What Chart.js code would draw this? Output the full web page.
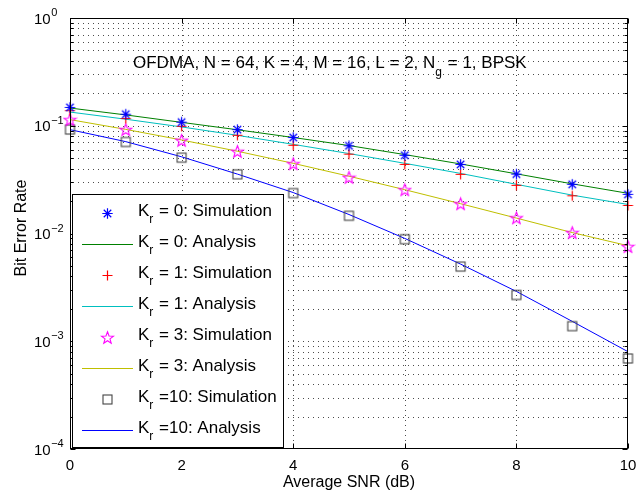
<!DOCTYPE html>
<html>
<head>
<meta charset="utf-8">
<script src="https://cdn.jsdelivr.net/npm/chart.js@4.4.1/dist/chart.umd.min.js"></script>
<style>
html,body{margin:0;padding:0;background:#fff;}
#wrap{width:639px;height:492px;position:relative;}
</style>
</head>
<body>
<div id="wrap"><canvas id="c" width="639" height="492"></canvas></div>
<script>
// ---- data ----
const snr    = [0,1,2,3,4,5,6,7,8,9,10];
const simK0  = [0.148,0.128,0.108,0.092,0.0777,0.0652,0.0532,0.0438,0.0356,0.0286,0.0231];
const anaK0  = [0.146,0.126,0.1075,0.0918,0.0778,0.0655,0.0540,0.0442,0.0358,0.0289,0.0236];
const simK1  = [0.138,0.1167,0.0989,0.0816,0.0659,0.0545,0.0438,0.0354,0.0280,0.0224,0.0182];
const anaK1  = [0.134,0.1150,0.0975,0.0815,0.0672,0.0552,0.0448,0.0361,0.0286,0.0227,0.0186];
const simK3  = [0.114,0.0922,0.0733,0.0579,0.0445,0.0332,0.0255,0.0189,0.0140,0.0102,0.00757];
const anaK3  = [0.114,0.0925,0.0738,0.0580,0.0448,0.0340,0.0255,0.0189,0.0139,0.0102,0.0077];
const simK10 = [0.0922,0.0707,0.0506,0.0354,0.0237,0.0146,0.00885,0.00493,0.00269,0.00138,0.000692];
const anaK10 = [0.092,0.0712,0.0515,0.0356,0.0240,0.0150,0.0090,0.0052,0.0029,0.00153,0.00080];

const xTicks = [0,2,4,6,8,10];
const yTicks = [1e-4,1e-3,1e-2,1e-1,1];
const yTickExp = ['-4','-3','-2','-1','0'];
const legendLabels = [
  'K_r = 0: Simulation','K_r = 0: Analysis',
  'K_r = 1: Simulation','K_r = 1: Analysis',
  'K_r = 3: Simulation','K_r = 3: Analysis',
  'K_r =10: Simulation','K_r =10: Analysis'
];
const titleText = 'OFDMA, N = 64, K = 4, M = 16, L = 2, N_g = 1, BPSK';
const xTitle = 'Average SNR (dB)';
const yTitle = 'Bit Error Rate';

const FONT = '"Liberation Sans", Arial, Helvetica, sans-serif';

// ---- marker images ----
function mk(size, draw){
  const c = document.createElement('canvas');
  c.width = size; c.height = size;
  const g = c.getContext('2d');
  draw(g, size/2);
  return c;
}
const mAst = mk(13, (g,c)=>{
  g.strokeStyle='#0000ff'; g.lineWidth=1.2; g.beginPath();
  const r=5.2, d=r*0.72;
  g.moveTo(c-r,c); g.lineTo(c+r,c);
  g.moveTo(c,c-r); g.lineTo(c,c+r);
  g.moveTo(c-d,c-d); g.lineTo(c+d,c+d);
  g.moveTo(c-d,c+d); g.lineTo(c+d,c-d);
  g.stroke();
});
const mPlus = mk(13, (g,c)=>{
  g.strokeStyle='#ff0000'; g.lineWidth=1.2; g.beginPath();
  const r=5;
  g.moveTo(c-r,c); g.lineTo(c+r,c);
  g.moveTo(c,c-r); g.lineTo(c,c+r);
  g.stroke();
});
const mStar = mk(15, (g,c)=>{
  g.strokeStyle='#ff00ff'; g.lineWidth=1.1; g.beginPath();
  const R=6.3, r=2.6;
  for(let i=0;i<10;i++){
    const a = -Math.PI/2 + i*Math.PI/5;
    const rr = (i%2===0)?R:r;
    const px = c + rr*Math.cos(a), py = c + 0.6 + rr*Math.sin(a);
    if(i===0) g.moveTo(px,py); else g.lineTo(px,py);
  }
  g.closePath(); g.stroke();
});
const mSq = mk(13, (g,c)=>{
  g.strokeStyle='#444444'; g.lineWidth=1.1;
  g.strokeRect(2,2,9,9);
});

const toXY = arr => snr.map((x,i)=>({x:x, y:arr[i]}));

const simDs = (label, arr, img) => ({
  label, data: toXY(arr), showLine:false, pointStyle:img, pointRadius:6,
  borderColor:'rgba(0,0,0,0)', backgroundColor:'rgba(0,0,0,0)', order:0, clip:false
});
const anaDs = (label, arr, color) => ({
  label, data: toXY(arr), showLine:true, pointRadius:0, borderColor:color,
  borderWidth:1, tension:0, fill:false, order:1, clip:false
});

const datasets = [
  simDs(legendLabels[0], simK0, mAst),
  anaDs(legendLabels[1], anaK0, '#008000'),
  simDs(legendLabels[2], simK1, mPlus),
  anaDs(legendLabels[3], anaK1, '#00bfbf'),
  simDs(legendLabels[4], simK3, mStar),
  anaDs(legendLabels[5], anaK3, '#bfbf00'),
  simDs(legendLabels[6], simK10, mSq),
  anaDs(legendLabels[7], anaK10, '#0000ff')
];

// ---- rich text helper: "_x" = one-char subscript ----
function parseRich(s){
  const parts=[]; let buf='';
  for(let i=0;i<s.length;i++){
    if(s[i]==='_' && i+1<s.length){
      if(buf){parts.push({t:buf,sub:false}); buf='';}
      parts.push({t:s[i+1],sub:true}); i++;
    } else buf+=s[i];
  }
  if(buf) parts.push({t:buf,sub:false});
  return parts;
}
function drawRich(ctx, s, x, y, size, subSize, subDy){
  const parts = parseRich(s);
  ctx.textBaseline='alphabetic'; ctx.textAlign='left';
  let cx = x;
  for(const p of parts){
    ctx.font = (p.sub?subSize:size)+'px '+FONT;
    ctx.fillText(p.t, cx, y + (p.sub?subDy:0));
    cx += ctx.measureText(p.t).width + (p.sub?1:0);
  }
}

const frame = {
  id:'frame',
  beforeDraw(chart){
    const ctx=chart.ctx; ctx.save(); ctx.fillStyle='#fff';
    ctx.fillRect(0,0,chart.width,chart.height); ctx.restore();
  },
  beforeDatasetsDraw(chart){
    const ctx=chart.ctx, a=chart.chartArea, xs=chart.scales.x, ys=chart.scales.y;
    ctx.save();
    ctx.strokeStyle='rgba(0,0,0,0.7)'; ctx.lineWidth=1; ctx.setLineDash([1,4]);
    // vertical grid
    xTicks.forEach(v=>{
      const px=Math.round(xs.getPixelForValue(v))+0.5;
      if(px<=a.left+1||px>=a.right-1) return;
      ctx.beginPath(); ctx.moveTo(px,a.top+2); ctx.lineTo(px,a.bottom); ctx.stroke();
    });
    // horizontal grid (log decades + minors)
    for(let d=0; d<yTicks.length-1; d++){
      for(let m=1;m<=9;m++){
        const v=yTicks[d]*m;
        const py=Math.round(ys.getPixelForValue(v))+0.5;
        if(py>=a.bottom-1||py<=a.top+1) continue;
        ctx.beginPath(); ctx.moveTo(a.left+3,py); ctx.lineTo(a.right,py); ctx.stroke();
      }
    }
    ctx.restore();
  },
  afterDatasetsDraw(chart){
    const ctx=chart.ctx, a=chart.chartArea, xs=chart.scales.x, ys=chart.scales.y;
    ctx.save();
    ctx.setLineDash([]);
    ctx.strokeStyle='#000'; ctx.fillStyle='#000'; ctx.lineWidth=1;
    const L=Math.round(a.left)+0.5, R=Math.round(a.right)-0.5, T=Math.round(a.top)+0.5, B=Math.round(a.bottom)-0.5;
    ctx.strokeRect(L,T,R-L,B-T);
    // ticks
    ctx.beginPath();
    xTicks.forEach(v=>{
      const px=Math.round(xs.getPixelForValue(v))+0.5;
      ctx.moveTo(px,B); ctx.lineTo(px,B-5);
      ctx.moveTo(px,T); ctx.lineTo(px,T+5);
    });
    for(let d=0; d<yTicks.length; d++){
      for(let m=1;m<=9;m++){
        if(d===yTicks.length-1 && m>1) break;
        const v=yTicks[d]*m;
        const py=Math.round(ys.getPixelForValue(v))+0.5;
        const len = m===1?5:3;
        ctx.moveTo(L,py); ctx.lineTo(L+len,py);
        ctx.moveTo(R,py); ctx.lineTo(R-len,py);
      }
    }
    ctx.stroke();
    // x tick labels
    ctx.font='15px '+FONT; ctx.textAlign='center'; ctx.textBaseline='middle';
    xTicks.forEach(v=>{ ctx.fillText(String(v), xs.getPixelForValue(v), 466); });
    // y tick labels 10^n
    yTicks.forEach((v,i)=>{
      const py=ys.getPixelForValue(v);
      ctx.font='15px '+FONT; ctx.textAlign='left'; ctx.textBaseline='alphabetic';
      ctx.fillText('10', 34, py+5.5);
      const w=ctx.measureText('10').width;
      ctx.font='11px '+FONT;
      ctx.fillText(yTickExp[i].replace('-','\u2212'), 34+w+0.5, py-2);
    });
    // axis titles
    ctx.font='16px '+FONT; ctx.textAlign='center'; ctx.textBaseline='alphabetic';
    ctx.fillText(xTitle, (a.left+a.right)/2, 487);
    ctx.save(); ctx.translate(22,228); ctx.rotate(-Math.PI/2);
    ctx.textBaseline='middle'; ctx.fillText(yTitle,0,0); ctx.restore();
    // annotation
    drawRich(ctx, titleText, 133, 68, 17, 12, 8);
    // legend
    const lx0=72, ly0=194, lx1=284, ly1=448;
    ctx.fillStyle='#fff'; ctx.fillRect(lx0,ly0,lx1-lx0,ly1-ly0);
    ctx.strokeStyle='#000'; ctx.lineWidth=1; ctx.strokeRect(lx0+0.5,ly0+0.5,lx1-lx0-1,ly1-ly0-1);
    ctx.fillStyle='#000';
    datasets.forEach((ds,i)=>{
      const ry=213+31*i;
      if(ds.showLine){
        ctx.strokeStyle=ds.borderColor; ctx.lineWidth=1;
        ctx.beginPath(); ctx.moveTo(82,Math.round(ry)+0.5); ctx.lineTo(133,Math.round(ry)+0.5); ctx.stroke();
      } else {
        const img=ds.pointStyle;
        ctx.drawImage(img, Math.round(107-img.width/2), Math.round(ry-img.height/2));
      }
      ctx.fillStyle='#000';
      drawRich(ctx, legendLabels[i], 138, ry+3, 17, 12, 7);
    });
    ctx.restore();
  }
};

new Chart(document.getElementById('c'), {
  type:'line',
  data:{ datasets },
  options:{
    responsive:false, animation:false, devicePixelRatio:1,
    layout:{ padding:{ left:70, right:11, top:18, bottom:43 } },
    scales:{
      x:{ type:'linear', min:0, max:10, display:false },
      y:{ type:'logarithmic', min:1e-4, max:1, display:false }
    },
    plugins:{ legend:{display:false}, tooltip:{enabled:false}, title:{display:false} }
  },
  plugins:[frame]
});
</script>
</body>
</html>
